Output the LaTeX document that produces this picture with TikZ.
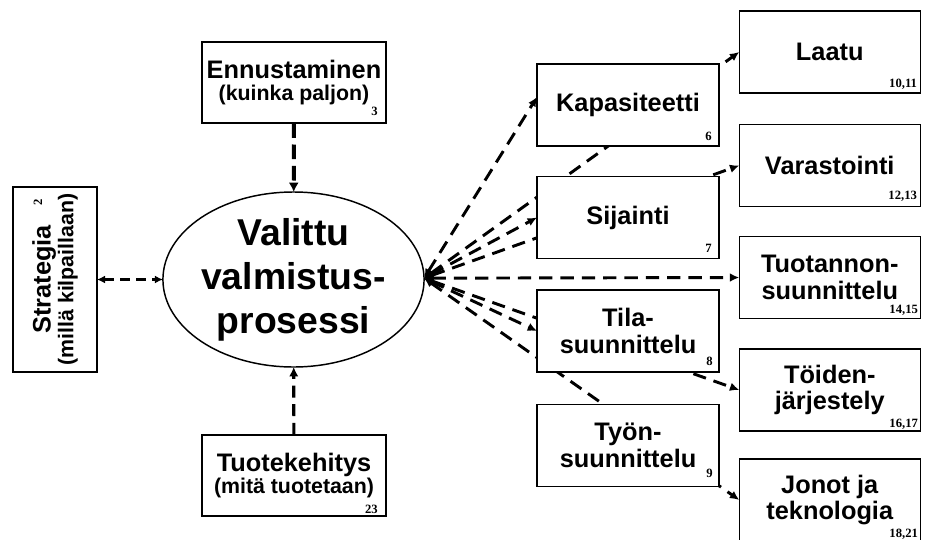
\documentclass[tikz,border=0pt]{standalone}
\usepackage{fontspec}
\setmainfont{Liberation Sans}
\newfontfamily\numfont{Liberation Serif}
\usetikzlibrary{arrows.meta,shapes.geometric,backgrounds}
\newcommand\sublabelfont{\fontsize{16}{17}\selectfont}
\begin{document}
\begin{tikzpicture}[x=0.75pt,y=-0.75pt,
  box/.style={draw, fill=white, line width=1.1pt, inner sep=0pt, outer sep=0pt, align=center,
    font=\bfseries\fontsize{19}{20}\selectfont},
  mbox/.style={box, minimum width=136.5pt, minimum height=61.5pt},
  rbox/.style={box, minimum width=135.75pt, minimum height=61.5pt},
  lbox/.style={box, minimum width=138pt, minimum height=61pt, font=\bfseries\fontsize{19}{16.5}\selectfont},
  num/.style={font=\numfont\bfseries\fontsize{9.5}{10}\selectfont, inner sep=0pt, anchor=base east},
  tip/.style={Latex[length=7pt,width=6.5pt]},
  conn/.style={line width=2.2pt, dash pattern=on 10pt off 6pt, {Latex[length=7pt,width=6.5pt]}-{Latex[length=7pt,width=6.5pt]}},
]
\useasboundingbox (0,0) rectangle (928,539);

% central ellipse
\node[ellipse, draw, line width=1.1pt, fill=white, minimum width=191.25pt, minimum height=131.25pt,
  inner sep=0pt, outer sep=0pt, align=center, font=\bfseries\fontsize{28}{33}\selectfont]
  (ell) at (293.5,279.5) {Valittu\\valmistus-\\prosessi};

% left side boxes
\node[lbox] (enn) at (294,82.5) {Ennustaminen\\{\sublabelfont (kuinka paljon)}};
\node[lbox] (tuo) at (294,475.5) {Tuotekehitys\\{\sublabelfont (mitä tuotetaan)}};
\node[box, rotate=90, minimum width=138.75pt, minimum height=63pt,
  font=\bfseries\fontsize{19}{17}\selectfont] (strat) at (55,279.5)
  {Strategia\\{\sublabelfont (millä kilpaillaan)}};

% middle column
\node[mbox] (kap) at (628,105) {Kapasiteetti};
\node[mbox] (sij) at (628,217.5) {Sijainti};
\node[mbox] (tila) at (628,331) {Tila-\\suunnittelu};
\node[mbox] (tyon) at (628,445.5) {Työn-\\suunnittelu};

% right column
\node[rbox] (laatu) at (829.75,52) {Laatu};
\node[rbox] (var) at (829.75,165.5) {Varastointi};
\node[rbox] (tuot) at (829.75,277.5) {Tuotannon-\\suunnittelu};
\node[rbox] (toi) at (829.75,390) {Töiden-\\järjestely};
\node[rbox] (jon) at (829.75,500) {Jonot ja\\teknologia};

% numbers
\node[num] at ([shift={(-8,-8)}]enn.south east) {3};
\node[num] at ([shift={(-8,-3)}]tuo.south east) {23};
\node[num, rotate=90, anchor=center] at (38,202) {2};
\node[num] at ([shift={(-7,-6)}]kap.south east) {6};
\node[num] at ([shift={(-7,-6.5)}]sij.south east) {7};
\node[num] at ([shift={(-6,-7)}]tila.south east) {8};
\node[num] at ([shift={(-6,-9.5)}]tyon.south east) {9};
\node[num] at ([shift={(-3,-6)}]laatu.south east) {10,11};
\node[num] at ([shift={(-3,-7)}]var.south east) {12,13};
\node[num] at ([shift={(-2,-5.5)}]tuot.south east) {14,15};
\node[num] at ([shift={(-2,-4)}]toi.south east) {16,17};
\node[num] at ([shift={(-2,-4)}]jon.south east) {18,21};

% connectors (behind boxes)
\begin{scope}[on background layer]
\draw[line width=3pt, dash pattern=on 11pt off 5pt, -{Latex[length=7pt,width=7.5pt]}] (enn) -- (ell);
\draw[line width=2.4pt, dash pattern=on 9pt off 5pt, -{Latex[length=7pt,width=7pt]}] (tuo) -- (ell);
\draw[line width=1.8pt, dash pattern=on 7pt off 5pt, {Latex[length=6pt,width=6pt]}-{Latex[length=6pt,width=6pt]}] (strat) -- (ell);
\coordinate (E) at ([yshift=1pt]ell.east);
\draw[conn] (E) -- ([yshift=6pt]kap.west);
\draw[conn] (E) -- (sij.west);
\draw[conn] (E) -- (tila.west);
\draw[conn] (E) -- (laatu.west);
\draw[conn] (E) -- (var.west);
\draw[conn] (E) -- (tuot.west);
\draw[conn] (E) -- (toi.west);
\draw[conn] (E) -- (jon.west);
\end{scope}
\end{tikzpicture}
\end{document}
